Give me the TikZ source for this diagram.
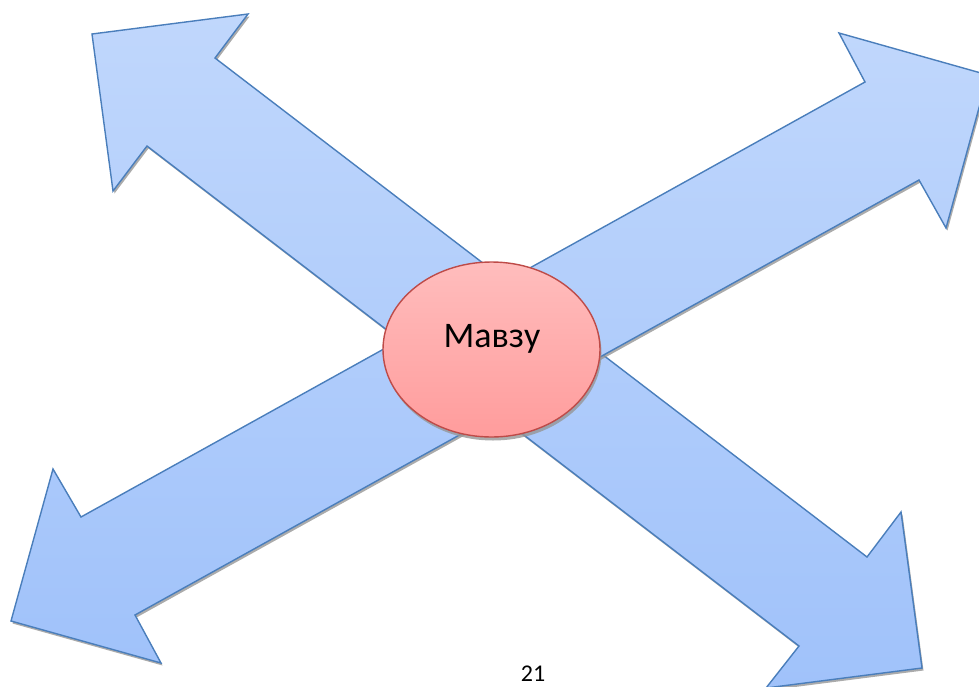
\documentclass[tikz,border=0pt]{standalone}
\usepackage{fontspec}
\setmainfont{Carlito}
\usetikzlibrary{shapes.geometric}
\definecolor{arrowline}{RGB}{74,126,187}
\definecolor{arrowtop}{RGB}{192,215,252}
\definecolor{arrowbot}{RGB}{160,194,250}
\definecolor{elltop}{RGB}{255,189,189}
\definecolor{ellbot}{RGB}{255,156,156}
\definecolor{ellline}{RGB}{190,75,72}
\definecolor{shadowgray}{RGB}{150,150,150}
\tikzset{
  bigarrow/.style={draw=arrowline, line width=1.4pt, line join=miter, top color=arrowtop, bottom color=arrowbot},
  arrowshadow/.style={fill=shadowgray, opacity=0.8, draw=none},
  topic/.style={ellipse, draw=ellline, line width=1.4pt, top color=elltop, bottom color=ellbot,
    minimum width=217pt, minimum height=175pt, inner sep=0pt},
  pagenum/.style={font=\fontsize{24pt}{28pt}\selectfont, anchor=base, inner sep=0pt}
}
\begin{document}
\begin{tikzpicture}[x=1pt,y=-1pt]
\useasboundingbox (0,0) rectangle (979,686);
% arrow 1: NW -- SE
\path[arrowshadow, shift={(1.5,2.5)}] (92,34) -- (248,14) -- (215,58) -- (867,557) -- (901,512) -- (922,668) -- (766,688) -- (799,646) -- (147,146) -- (113,191) -- cycle;
\path[bigarrow] (92,34) -- (248,14) -- (215,58) -- (867,557) -- (901,512) -- (922,668) -- (766,688) -- (799,646) -- (147,146) -- (113,191) -- cycle;
% arrow 2: SW -- NE
\path[arrowshadow, shift={(1.5,2.5)}] (11,621) -- (53,469) -- (81,517) -- (865,82) -- (839,33) -- (988,75) -- (946,228) -- (919,180) -- (135,615) -- (161,663) -- cycle;
\path[bigarrow] (11,621) -- (53,469) -- (81,517) -- (865,82) -- (839,33) -- (988,75) -- (946,228) -- (919,180) -- (135,615) -- (161,663) -- cycle;
% centre
\fill[shadowgray, opacity=0.8] (493,353) ellipse [x radius=108.5pt, y radius=87.5pt];
\node[topic] (topic) at (491.5,349.5) {};
\node[anchor=base, inner sep=0pt, font=\fontsize{36pt}{40pt}\selectfont] (label) at (492,347) {Мавзу};
\node[pagenum] (page) at (533,681) {21};
\end{tikzpicture}
\end{document}
